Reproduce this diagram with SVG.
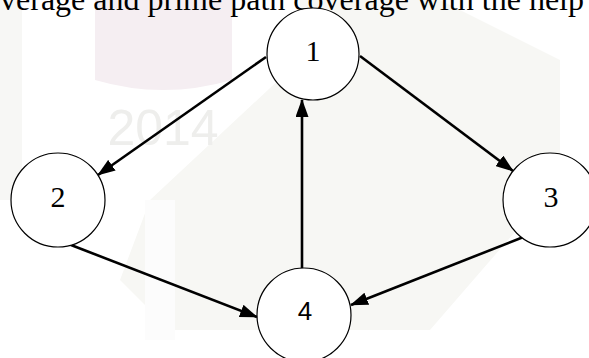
<svg xmlns="http://www.w3.org/2000/svg" width="589" height="358" viewBox="0 0 589 358">
<style>
.node circle{fill:#fff;stroke:#000;stroke-width:1.2}
.lbl{font-family:"Liberation Serif",serif;font-size:30px;text-anchor:middle;fill:#000}
.edge{stroke:#000;stroke-width:2.6;fill:none;marker-end:url(#ah)}
</style>
<defs>
<marker id="ah" markerUnits="userSpaceOnUse" markerWidth="18" markerHeight="13" refX="17" refY="6.5" orient="auto">
<path d="M0,0 L18,6.5 L0,13 z" fill="#000"/>
</marker>
</defs>
<rect width="589" height="358" fill="#fff"/>
<g id="watermark">
<rect x="0" y="0" width="22" height="200" fill="#f7f7f5"/>
<path d="M300,0 L440,0 L560,60 L560,180 L430,330 L170,330 L120,280 L150,200 L300,60 z" fill="#f7f7f4"/>
<rect x="145" y="200" width="30" height="140" fill="#fcfcfc"/>
<path d="M95,0 L232,0 L232,80 Q163,100 95,80 z" fill="#f5eef2"/>
<text x="163" y="145" font-family="Liberation Sans,sans-serif" font-size="50" fill="#eeeeec" text-anchor="middle">2014</text>
</g>
<text id="caption" x="0" y="10" font-family="Liberation Serif,serif" font-size="32" textLength="584" lengthAdjust="spacingAndGlyphs" fill="#000">verage and prime path coverage with the help</text>
<g id="connectors">
<line class="edge" x1="266" y1="57" x2="98" y2="175"/>
<line class="edge" x1="360" y1="56" x2="513" y2="171"/>
<line class="edge" x1="302" y1="268" x2="302" y2="100"/>
<line class="edge" x1="71" y1="245" x2="257" y2="317"/>
<line class="edge" x1="526" y1="236" x2="351" y2="305"/>
</g>
<g id="n1" class="node"><circle cx="313" cy="54" r="46"/><text class="lbl" x="313" y="61">1</text></g>
<g id="n2" class="node"><circle cx="58" cy="200" r="47"/><text class="lbl" x="58" y="207">2</text></g>
<g id="n3" class="node"><circle cx="550" cy="200" r="47"/><text class="lbl" x="551" y="207">3</text></g>
<g id="n4" class="node"><circle cx="304" cy="315" r="47"/><text x="305" y="320" font-family="Liberation Sans,sans-serif" font-size="26" text-anchor="middle">4</text></g>
</svg>
